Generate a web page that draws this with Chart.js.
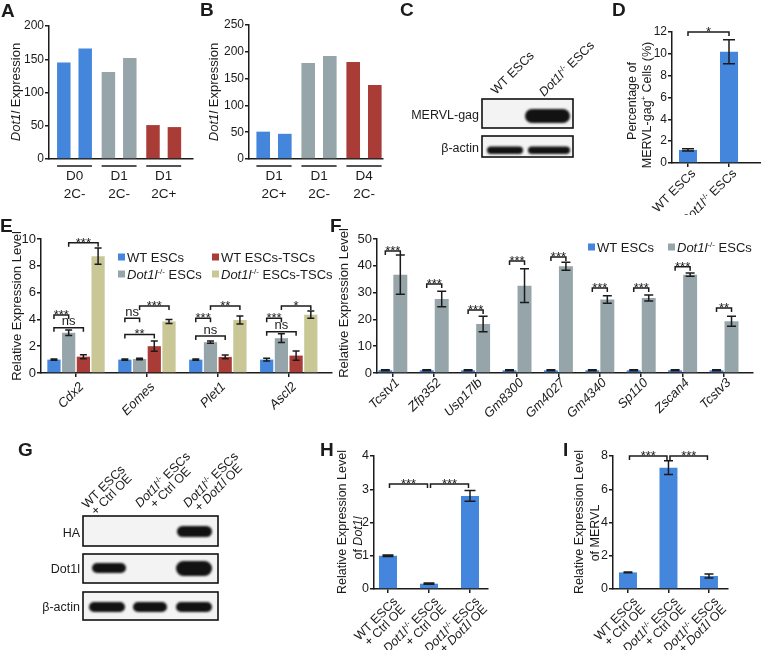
<!DOCTYPE html>
<html>
<head>
<meta charset="utf-8">
<script src="https://cdn.jsdelivr.net/npm/chart.js@4.4.1/dist/chart.umd.min.js"></script>
<style>
  html, body { margin: 0; padding: 0; background: #fff; }
  #fig { position: relative; width: 761px; height: 650px; overflow: hidden; }
  #fig canvas { position: absolute; }
</style>
</head>
<body>
<div id="fig"><canvas id="blots" width="761" height="650" style="left:0;top:0"></canvas></div>
<script>
// ---- data ----
// A: Dot1l expression, two replicates per group
const aGroups = [['D0', '2C-'], ['D1', '2C-'], ['D1', '2C+']];
const aRep1 = [145, 131, 51];
const aRep2 = [166, 152, 48];
const aTicks = [0, 50, 100, 150, 200];

// B
const bGroups = [['D1', '2C+'], ['D1', '2C-'], ['D4', '2C-']];
const bRep1 = [51, 179, 181];
const bRep2 = [47, 192, 138];
const bTicks = [0, 50, 100, 150, 200, 250];

// D: percentage of MERVL-gag+ cells
const dLabels = ['WT ESCs', '_Dot1l_^-/-^ ESCs'];
const dMean = [1.2, 10.2];
const dErr = [0.1, 1.1];
const dTicks = [0, 2, 4, 6, 8, 10, 12];
const dSig = [[0, 1, 12, '*']];

// E: TSC markers (bar order: WT, KO, WT-TSC, KO-TSC)
const eGenes = ['_Cdx2_', '_Eomes_', '_Plet1_', '_Ascl2_'];
const eSeries = ['WT ESCs', '_Dot1l_^-/-^ ESCs', 'WT ESCs-TSCs', '_Dot1l_^-/-^ ESCs-TSCs'];
const eWT = [1.0, 1.0, 1.0, 1.0];
const eWTErr = [0.05, 0.05, 0.05, 0.1];
const eKO = [3.0, 1.05, 2.3, 2.6];
const eKOErr = [0.2, 0.06, 0.08, 0.32];
const eWTT = [1.22, 2.0, 1.2, 1.3];
const eWTTErr = [0.15, 0.38, 0.14, 0.35];
const eKOT = [8.72, 3.85, 3.95, 4.35];
const eKOTErr = [0.6, 0.15, 0.3, 0.27];
const eTicks = [0, 2, 4, 6, 8, 10];
// [gene, bar a, bar b, height, label]
const eSig = [
  [0, 0, 1, 4.33, '***'], [0, 0, 2, 3.38, 'ns'], [0, 1, 3, 9.72, '***'],
  [1, 0, 1, 4.08, 'ns'], [1, 0, 2, 2.88, '**'], [1, 1, 3, 5.0, '***'],
  [2, 0, 1, 4.08, '***'], [2, 0, 2, 2.76, 'ns'], [2, 1, 3, 5.0, '**'],
  [3, 0, 1, 4.08, '***'], [3, 0, 2, 3.08, 'ns'], [3, 1, 3, 5.0, '*']
];

// F: 2C genes
const fGenes = ['_Tcstv1_', '_Zfp352_', '_Usp17lb_', '_Gm8300_', '_Gm4027_', '_Gm4340_', '_Sp110_', '_Zscan4_', '_Tcstv3_'];
const fWT = [1, 1, 1, 1, 1, 1, 1, 1, 1];
const fWTErr = [0.2, 0.2, 0.2, 0.2, 0.2, 0.2, 0.2, 0.2, 0.2];
const fKO = [36.7, 27.6, 18.3, 32.6, 39.8, 27.4, 28.0, 36.7, 19.3];
const fKOErr = [7.3, 2.9, 2.9, 6.3, 1.5, 1.4, 1.1, 0.6, 1.9];
const fSigY = [45.5, 33.2, 23.5, 41.8, 43.3, 31.7, 31.7, 39.6, 24.3];
const fSigLab = ['***', '***', '***', '***', '***', '***', '***', '***', '**'];
const fTicks = [0, 10, 20, 30, 40, 50];

// G/H/I: overexpression rescue
const oeLabels = [['WT ESCs', '+ Ctrl OE'], ['_Dot1l_^-/-^ ESCs', '+ Ctrl OE'], ['_Dot1l_^-/-^ ESCs', '+ _Dot1l_ OE']];
const hMean = [1.0, 0.16, 2.8];
const hErr = [0.02, 0.02, 0.16];
const hTicks = [0, 1, 2, 3, 4];
const hSig = [[0, 1, 3.16, '***'], [1, 2, 3.16, '***']];
const iMean = [1.0, 7.3, 0.78];
const iErr = [0.03, 0.42, 0.12];
const iTicks = [0, 2, 4, 6, 8];
const iSig = [[0, 1, 8.0, '***'], [1, 2, 8.0, '***']];

// ---- style ----
const ink = '#1b1b1b';
const FAM = '"Liberation Sans", Arial, Helvetica, sans-serif';
const BLUE = '#4486dc', GREY = '#96a5aa', RED = '#aa3c37', KHAKI = '#c9c796';
const fig = document.getElementById('fig');

// rich text: _italic_ and ^superscript^
function font(size, it, bold) {
  return (it ? 'italic ' : '') + (bold ? 'bold ' : '') + size + 'px ' + FAM;
}
function segs(s) {
  const out = [];
  let buf = '', it = false, sup = false;
  const push = () => { if (buf) out.push({ t: buf, it, sup }); buf = ''; };
  for (const ch of s) {
    if (ch === '_') { push(); it = !it; }
    else if (ch === '^') { push(); sup = !sup; }
    else buf += ch;
  }
  push();
  return out;
}
function richWidth(ctx, s, size) {
  let w = 0;
  for (const g of segs(s)) {
    ctx.font = font(g.sup ? size * 0.62 : size, g.it);
    w += ctx.measureText(g.t).width;
  }
  return w;
}
// y = middle of capitals
function rich(ctx, s, x, y, size, align) {
  const w = richWidth(ctx, s, size);
  let cx = align === 'center' ? x - w / 2 : align === 'right' ? x - w : x;
  const base = y + size * 0.36;
  ctx.textAlign = 'left';
  ctx.textBaseline = 'alphabetic';
  for (const g of segs(s)) {
    const fs = g.sup ? size * 0.62 : size;
    ctx.font = font(fs, g.it);
    ctx.fillText(g.t, cx, base - (g.sup ? size * 0.38 : 0));
    cx += ctx.measureText(g.t).width;
  }
}
// -45deg block anchored at its top-right end
function rotBlock(ctx, lines, ax, ay, size, lh, align) {
  const W = Math.max(...lines.map(l => richWidth(ctx, l, size)));
  ctx.save();
  ctx.translate(ax, ay);
  ctx.rotate(-Math.PI / 4);
  lines.forEach((l, k) => {
    if (align === 'right') rich(ctx, l, 0, k * lh, size, 'right');
    else rich(ctx, l, -W / 2, k * lh, size, 'center');
  });
  ctx.restore();
}
// -45deg block from the baseline start of its first line
function slant(ctx, lines, sx, sy, size, lh) {
  const w1 = richWidth(ctx, lines[0], size);
  ctx.save();
  ctx.translate(sx, sy);
  ctx.rotate(-Math.PI / 4);
  lines.forEach((l, k) => rich(ctx, l, w1 / 2, k * lh - size * 0.36, size, 'center'));
  ctx.restore();
}

function deco(chart, o) {
  const ctx = chart.ctx, xs = chart.scales.x, ys = chart.scales.y, area = chart.chartArea;
  const ox = o.box[0], oy = o.box[1];
  ctx.save();
  ctx.strokeStyle = ink;
  ctx.fillStyle = ink;
  ctx.lineWidth = 1.5;
  // error bars
  chart.data.datasets.forEach((ds, di) => {
    if (!ds.errors) return;
    chart.getDatasetMeta(di).data.forEach((bar, i) => {
      const v = ds.data[i].y, e = ds.errors[i], h = o.cap / 2;
      const t = ys.getPixelForValue(v + e), b = ys.getPixelForValue(Math.max(0, v - e));
      ctx.beginPath();
      ctx.moveTo(bar.x, t); ctx.lineTo(bar.x, b);
      ctx.moveTo(bar.x - h, t); ctx.lineTo(bar.x + h, t);
      ctx.moveTo(bar.x - h, b); ctx.lineTo(bar.x + h, b);
      ctx.stroke();
    });
  });
  // significance brackets
  (o.sig || []).forEach(([da, ca, db, cb, val, label]) => {
    const x1 = chart.getDatasetMeta(da).data[ca].x + (o.inset || 0);
    const x2 = chart.getDatasetMeta(db).data[cb].x - (o.inset || 0);
    const py = ys.getPixelForValue(val);
    ctx.beginPath();
    ctx.moveTo(x1, py + 4); ctx.lineTo(x1, py); ctx.lineTo(x2, py); ctx.lineTo(x2, py + 4);
    ctx.stroke();
    ctx.font = font(13);
    ctx.textAlign = 'center';
    ctx.textBaseline = 'alphabetic';
    ctx.fillText(label, (x1 + x2) / 2, label.includes('*') ? py + 4 : py - 2.5);
  });
  // grouped category labels with underline
  if (o.groups) {
    const m0 = chart.getDatasetMeta(0).data, m1 = chart.getDatasetMeta(1).data;
    o.groups.forEach((g, i) => {
      const l = m0[i].x - m0[i].width / 2, r = m1[i].x + m1[i].width / 2, c = (l + r) / 2;
      ctx.beginPath();
      ctx.moveTo(l, area.bottom + 7); ctx.lineTo(r, area.bottom + 7);
      ctx.stroke();
      g.forEach((t, k) => rich(ctx, t, c, area.bottom + 16 + k * 18, 13.5, 'center'));
    });
  }
  // slanted category labels
  (o.xLabels || []).forEach((lab, i) => {
    const lines = Array.isArray(lab) ? lab : [lab];
    rotBlock(ctx, lines, xs.getPixelForValue(i) + o.xdx, area.bottom + o.xdy, o.xSize, o.xlh || 12, o.xAlign);
  });
  // axis titles (page coordinates)
  (o.yTitle || []).forEach(([txt, px, py, size]) => {
    ctx.save();
    ctx.translate(px - ox, py - oy);
    ctx.rotate(-Math.PI / 2);
    rich(ctx, txt, 0, 0, size, 'center');
    ctx.restore();
  });
  // legend (page coordinates)
  (o.legend || []).forEach(([txt, col, px, py]) => {
    ctx.fillStyle = col;
    ctx.fillRect(px - ox, py - oy - 3.5, 7, 7);
    ctx.fillStyle = ink;
    rich(ctx, txt, px - ox + 9, py - oy, 13, 'left');
  });
  ctx.restore();
}

function barChart(o) {
  const cv = document.createElement('canvas');
  const [bl, bt, bw, bh] = o.box;
  const [L, T, R, B] = o.area;
  cv.width = bw; cv.height = bh;
  cv.style.left = bl + 'px'; cv.style.top = bt + 'px';
  cv.style.width = bw + 'px'; cv.style.height = bh + 'px';
  fig.appendChild(cv);
  const datasets = o.series.map(s => ({
    data: s.values.map((v, i) => ({ x: i, y: v })),
    errors: s.errors,
    backgroundColor: s.color,
    borderWidth: 0,
    categoryPercentage: o.catPct,
    barPercentage: o.barPct
  }));
  return new Chart(cv, {
    type: 'bar',
    data: { datasets },
    options: {
      responsive: false,
      animation: false,
      devicePixelRatio: 1,
      layout: { padding: { left: 0, top: T - bt, right: bl + bw - R, bottom: 0 } },
      plugins: { legend: { display: false }, tooltip: { enabled: false } },
      scales: {
        x: {
          type: 'linear', min: o.xMin, max: o.xMax, offset: false,
          afterBuildTicks: s => { s.ticks = o.series[0].values.map((_, i) => ({ value: i })); },
          afterFit: s => { s.height = bt + bh - B; },
          ticks: { display: false },
          grid: { display: o.xTicks !== false, offset: false, drawOnChartArea: false, tickLength: 4, color: ink, lineWidth: 1.5 },
          border: { display: true, color: ink, width: 1.5 }
        },
        y: {
          min: 0, max: o.yTicks[o.yTicks.length - 1],
          afterBuildTicks: s => { s.ticks = o.yTicks.map(v => ({ value: v })); },
          afterFit: s => { s.width = L - bl; },
          ticks: { color: ink, font: { family: FAM, size: o.tickSize }, padding: 1 },
          grid: { drawOnChartArea: false, tickLength: 4, color: ink, lineWidth: 1.5 },
          border: { color: ink, width: 1.5 }
        }
      }
    },
    plugins: [{ id: 'deco', afterDatasetsDraw: chart => deco(chart, o) }]
  });
}

// ---- panels A, B ----
const groupColors = [BLUE, GREY, RED];
barChart({
  box: [0, 0, 197, 205], area: [49, 26, 193, 159], xMin: -0.572, xMax: 2.657,
  series: [{ values: aRep1, color: groupColors }, { values: aRep2, color: groupColors }],
  catPct: 0.96, barPct: 0.63, yTicks: aTicks, tickSize: 12, xTicks: false,
  groups: aGroups, yTitle: [['_Dot1l_ Expression', 15, 92, 13]]
});
barChart({
  box: [195, 0, 195, 205], area: [249, 25, 383, 159], xMin: -0.556, xMax: 2.422,
  series: [{ values: bRep1, color: groupColors }, { values: bRep2, color: groupColors }],
  catPct: 0.96, barPct: 0.63, yTicks: bTicks, tickSize: 12, xTicks: false,
  groups: bGroups, yTitle: [['_Dot1l_ Expression', 213, 92, 13]]
});

// ---- panel D ----
barChart({
  box: [600, 0, 161, 215], area: [672, 32, 761, 163], xMin: -0.39, xMax: 1.78,
  series: [{ values: dMean, errors: dErr, color: BLUE }],
  catPct: 1, barPct: 0.44, yTicks: dTicks, tickSize: 12, cap: 12,
  sig: dSig.map(([a, b, v, l]) => [0, a, 0, b, v, l]),
  xLabels: dLabels, xdx: 5, xdy: 8, xSize: 12.5,
  yTitle: [['Percentage of', 631, 101, 12.5], ['MERVL-gag^+^ Cells (%)', 646, 105, 12.5]]
});

// ---- panel E ----
barChart({
  box: [0, 210, 340, 240], area: [41, 239, 332, 373], xMin: -0.494, xMax: 3.61,
  series: [
    { values: eWT, errors: eWTErr, color: BLUE },
    { values: eKO, errors: eKOErr, color: GREY },
    { values: eWTT, errors: eWTTErr, color: RED },
    { values: eKOT, errors: eKOTErr, color: KHAKI }
  ],
  catPct: 0.83, barPct: 0.9, yTicks: eTicks, tickSize: 13, cap: 7,
  sig: eSig.map(([c, a, b, v, l]) => [a, c, b, c, v, l]),
  xLabels: eGenes, xdx: 5, xdy: 11, xSize: 13,
  yTitle: [['Relative Expression Level', 16, 306, 13]],
  legend: [[eSeries[0], BLUE, 118, 257], [eSeries[2], RED, 212, 257],
           [eSeries[1], GREY, 118, 274], [eSeries[3], KHAKI, 212, 274]]
});

// ---- panel F ----
barChart({
  box: [330, 210, 431, 240], area: [377, 239, 753, 373], xMin: -0.382, xMax: 8.70,
  series: [
    { values: fWT, errors: fWTErr, color: BLUE },
    { values: fKO, errors: fKOErr, color: GREY }
  ],
  catPct: 0.725, barPct: 0.93, yTicks: fTicks, tickSize: 13, cap: 9,
  sig: fSigY.map((v, i) => [0, i, 1, i, v, fSigLab[i]]),
  xLabels: fGenes, xdx: 4, xdy: 7, xSize: 13,
  yTitle: [['Relative Expression Level', 343, 303, 13]],
  legend: [['WT ESCs', BLUE, 588, 247], ['_Dot1l_^-/-^ ESCs', GREY, 668, 247]]
});

// ---- panels H, I ----
barChart({
  box: [250, 440, 255, 210], area: [374, 456, 488, 589], xMin: -0.341, xMax: 2.439,
  series: [{ values: hMean, errors: hErr, color: BLUE }],
  catPct: 1, barPct: 0.44, yTicks: hTicks, tickSize: 12.5, cap: 11, inset: 1.5,
  sig: hSig.map(([a, b, v, l]) => [0, a, 0, b, v, l]),
  xLabels: oeLabels, xdx: 7, xdy: 10, xSize: 12.5, xlh: 11, xAlign: 'right',
  yTitle: [['Relative Expression Level', 341, 522, 12.5], ['of _Dot1l_', 357, 538, 12.5]]
});
barChart({
  box: [505, 440, 256, 210], area: [613, 456, 728, 589], xMin: -0.37, xMax: 2.47,
  series: [{ values: iMean, errors: iErr, color: BLUE }],
  catPct: 1, barPct: 0.444, yTicks: iTicks, tickSize: 12.5, cap: 9, inset: 1.5,
  sig: iSig.map(([a, b, v, l]) => [0, a, 0, b, v, l]),
  xLabels: oeLabels, xdx: 7, xdy: 10, xSize: 12.5, xlh: 11, xAlign: 'right',
  yTitle: [['Relative Expression Level', 578, 522, 12.5], ['of MERVL', 594, 533, 12.5]]
});

// ---- western blots and panel letters ----
const bctx = document.getElementById('blots').getContext('2d');
function blot(x, y, w, h, bands) {
  const c = bctx;
  c.save();
  c.fillStyle = '#f3f3f3';
  c.fillRect(x, y, w, h);
  c.beginPath(); c.rect(x, y, w, h); c.clip();
  c.filter = 'blur(1.3px)';
  c.fillStyle = '#121212';
  bands.forEach(([bx, by, bw, bh]) => {
    c.beginPath(); c.roundRect(bx, by, bw, bh, bh / 2); c.fill();
  });
  c.restore();
  c.strokeStyle = '#111';
  c.lineWidth = 1.6;
  c.strokeRect(x, y, w, h);
}
bctx.fillStyle = ink;
[['A', 1, 17], ['B', 200, 16], ['C', 400, 16], ['D', 612, 16], ['E', 0, 232],
 ['F', 330, 232], ['G', 18, 456], ['H', 320, 456], ['I', 563, 456]].forEach(([t, x, y]) => {
  bctx.font = font(19, false, true);
  bctx.textAlign = 'left';
  bctx.textBaseline = 'alphabetic';
  bctx.fillText(t, x, y);
});

// C
blot(482, 99, 91, 29, [[525, 109, 45, 14]]);
blot(482, 136, 91, 21, [[487, 146.5, 36, 7.5], [528, 146.5, 42, 7.5]]);
bctx.fillStyle = ink;
rich(bctx, 'MERVL-gag', 479, 114, 12.5, 'right');
rich(bctx, 'β-actin', 479, 147, 12.5, 'right');
slant(bctx, [dLabels[0]], 496, 95, 12.5, 11);
slant(bctx, [dLabels[1]], 544, 97, 12.5, 11);

// G
blot(83, 516, 135, 30, [[177, 526, 35, 11]]);
blot(83, 554, 135, 29, [[92, 563, 34, 10], [176, 561, 36, 15]]);
blot(83, 592, 135, 28, [[89, 602, 36, 10], [133, 602, 34, 10], [176, 602, 36, 10]]);
bctx.fillStyle = ink;
rich(bctx, 'HA', 80, 532, 12.5, 'right');
rich(bctx, 'Dot1l', 80, 568, 12.5, 'right');
rich(bctx, 'β-actin', 80, 606, 12.5, 'right');
slant(bctx, oeLabels[0], 87, 509, 12.5, 11);
slant(bctx, oeLabels[1], 140, 508, 12.5, 11);
slant(bctx, oeLabels[2], 188, 508, 12.5, 11);
</script>
</body>
</html>
